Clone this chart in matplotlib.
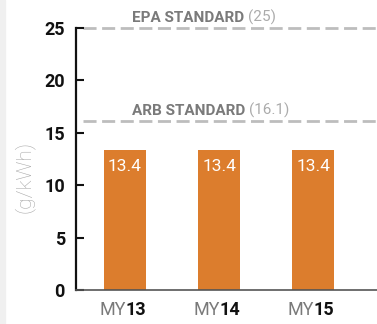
import matplotlib
matplotlib.use("Agg")
import matplotlib.pyplot as plt
from matplotlib.patches import Rectangle

plt.rcParams['font.family'] = ['Roboto', 'DejaVu Sans']

# model years and measured NOx emissions (g/kWh)
prefixes = ['MY', 'MY', 'MY']
years = ['13', '14', '15']
values = [13.4, 13.4, 13.4]

# regulatory limits
standards = ['EPA STANDARD', 'ARB STANDARD']
limits = [25, 16.1]
limit_labels = ['(25)', '(16.1)']

bar_color = '#DC7D2D'
dash_color = '#BDBDBD'
label_gray = '#7A7A7A'

fig = plt.figure(figsize=(3.77, 3.24), dpi=100)
fig.patches.append(Rectangle((0, 0), 5 / 377, 1, transform=fig.transFigure,
                             color='#F0F0F0', zorder=0))
ax = fig.add_axes([76 / 377, 34 / 324, 301 / 377, 262 / 324])

x = list(range(len(values)))
bars = ax.bar(x, values, width=0.447, color=bar_color, zorder=2)

for xi, v in zip(x, values):
    ax.annotate(f'{v}', xy=(xi, v), xytext=(0, -6.5), textcoords='offset points',
                ha='center', va='top', color='white', fontsize=12.5)

# dashed limit lines with two-tone captions
for name, lim, lab in zip(standards, limits, limit_labels):
    ax.axhline(lim, xmin=0.022, xmax=1, color=dash_color, lw=2,
               dashes=(4.7, 2.0), clip_on=False, zorder=1)
    t = ax.annotate(name, xy=(0.074, lim), xytext=(0, 2.5), textcoords='offset points',
                    ha='left', va='bottom', fontsize=11, fontweight='bold',
                    color=label_gray)
    ax.annotate(lab, xy=(1, 0), xycoords=t, xytext=(3, 0), textcoords='offset points',
                ha='left', va='bottom', fontsize=11, color='#ABABAB')

ax.set_xlim(-0.521, 2.68)
ax.set_ylim(0, 25)
ax.set_yticks([0, 5, 10, 15, 20, 25])
ax.tick_params(axis='y', direction='in', length=6, width=1.5, pad=8,
               labelsize=13, colors='#111111')
for lbl in ax.get_yticklabels():
    lbl.set_fontweight('bold')
ax.set_xticks([])

# category labels: gray prefix + bold year
for xi, p, yr in zip(x, prefixes, years):
    ax.annotate(p, xy=(xi, 0), xytext=(1, -18), textcoords='offset points',
                ha='right', va='baseline', fontsize=13, color='#7A7A7A')
    ax.annotate(yr, xy=(xi, 0), xytext=(0.5, -18), textcoords='offset points',
                ha='left', va='baseline', fontsize=13, fontweight='bold', color='#111111')

ax.set_ylabel('(g/kWh)', fontsize=15, color='#A8A8A8', fontweight='light')
ax.yaxis.set_label_coords(-0.138, 0.43)

for s in ['top', 'right']:
    ax.spines[s].set_visible(False)
ax.spines['left'].set_linewidth(1.6)
ax.spines['left'].set_color('#111111')
ax.spines['bottom'].set_linewidth(1.2)
ax.spines['bottom'].set_color('#555555')

fig.savefig('out.png', dpi=100)
